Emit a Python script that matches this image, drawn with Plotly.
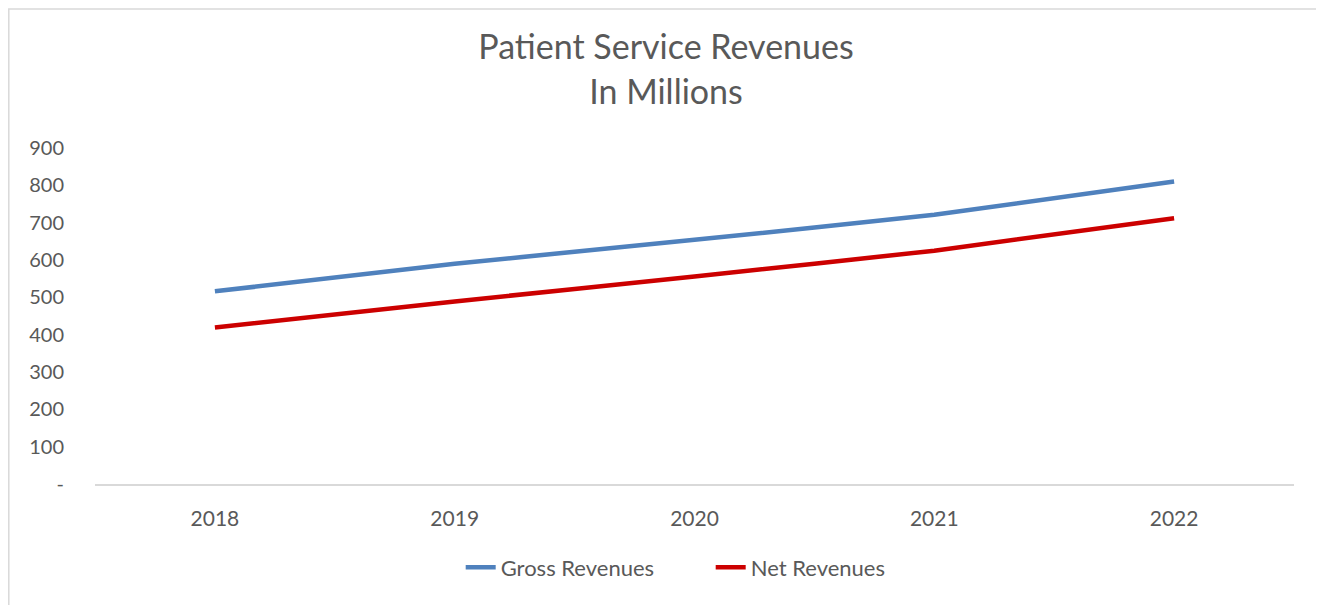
import plotly.graph_objects as go

years = ["2018", "2019", "2020", "2021", "2022"]
gross = [516, 590, 654, 721, 810]
net = [419, 489, 556, 625, 712]
ytick_vals = [0, 100, 200, 300, 400, 500, 600, 700, 800, 900]
ytick_text = ["-", "100", "200", "300", "400", "500", "600", "700", "800", "900"]

FONT = "Lato, 'Open Sans', sans-serif"
GREY = "#595959"

fig = go.Figure()
fig.add_trace(go.Scatter(x=years, y=gross, mode="lines", name="Gross Revenues",
                         line=dict(color="#4F81BD", width=4.5, shape="spline", smoothing=0.3)))
fig.add_trace(go.Scatter(x=years, y=net, mode="lines", name="Net Revenues",
                         line=dict(color="#CC0000", width=4.5, shape="spline", smoothing=0.3)))

fig.update_layout(
    width=1316, height=597,
    margin=dict(l=87, r=30, t=140, b=120.5),
    paper_bgcolor="white", plot_bgcolor="white",
    title=dict(text="Patient Service Revenues<br>In Millions", x=0.5, xanchor="center",
               y=0.914, yanchor="middle",
               font=dict(family=FONT, size=34, color=GREY)),
    font=dict(family=FONT, color=GREY),
    showlegend=True,
    legend=dict(orientation="h", x=0.305, xanchor="left", y=-0.186, yanchor="top",
                font=dict(size=22, color=GREY), traceorder="normal",
                entrywidth=205, entrywidthmode="pixels"),
    xaxis=dict(type="category", range=[-0.5, 4.5], showgrid=False, zeroline=False,
               showline=True, linecolor="#D9D9D9", linewidth=1.5,
               ticks="outside", ticklen=15, tickcolor="rgba(0,0,0,0)",
               tickfont=dict(size=21, color=GREY)),
    yaxis=dict(range=[0, 900], tickvals=ytick_vals, ticktext=ytick_text,
               showgrid=False, zeroline=False, showline=False,
               ticks="outside", ticklen=26, tickcolor="rgba(0,0,0,0)",
               tickfont=dict(size=20, color=GREY)),
)

fig.add_shape(type="rect", xref="paper", yref="paper",
              x0=-0.0719, x1=1.0234, y0=-0.5, y1=1.4138,
              line=dict(color="#D9D9D9", width=1.5), fillcolor="rgba(0,0,0,0)", layer="below")

fig.write_html("out.html")
